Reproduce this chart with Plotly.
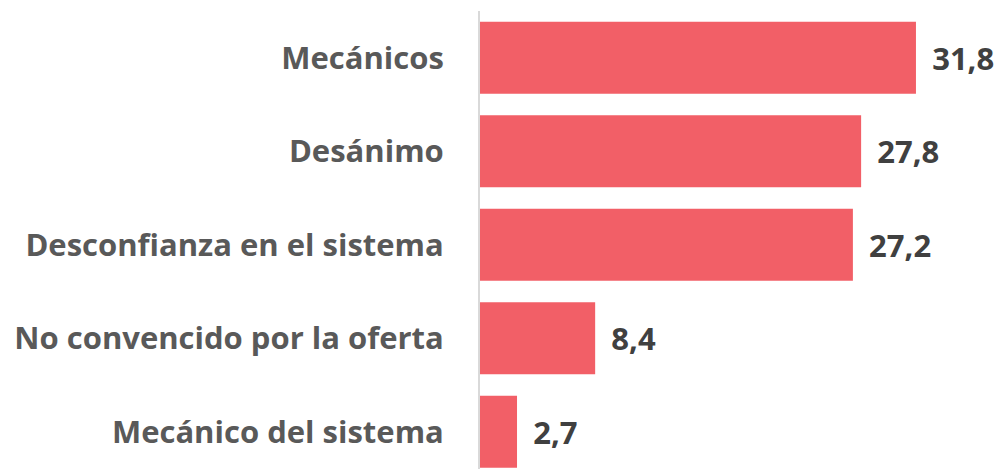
import plotly.graph_objects as go

categories = ["Mecánicos", "Desánimo", "Desconfianza en el sistema",
              "No convencido por la oferta", "Mecánico del sistema"]
values = [31.8, 27.8, 27.2, 8.4, 2.7]

fig = go.Figure(go.Bar(
    x=values, y=categories, orientation="h",
    marker=dict(color="#F25F67", line=dict(width=0)),
    width=0.77,
    text=values, texttemplate=" \u2009%{x:.1f}", textposition="outside",
    textfont=dict(family="Open Sans", size=31, color="#404040", weight="bold"),
    cliponaxis=False,
))

fig.update_layout(
    width=1000, height=469,
    margin=dict(l=480, r=0, t=11, b=0, autoexpand=False),
    paper_bgcolor="white", plot_bgcolor="white",
    separators=",.",
    showlegend=False,
    xaxis=dict(range=[0, 37.93], visible=False, fixedrange=True),
    yaxis=dict(
        type="category", categoryorder="array", categoryarray=categories,
        range=[4.398, -0.5], autorange=False, automargin=False,
        showline=True, linecolor="#D9D9D9", linewidth=2,
        showgrid=False, ticks="", ticklabelstandoff=28,
        tickfont=dict(family="Open Sans", size=31, color="#595959", weight="bold"),
    ),
)

fig.write_html("out.html", config={"displayModeBar": False},
               post_script="document.body.style.margin='0';")
